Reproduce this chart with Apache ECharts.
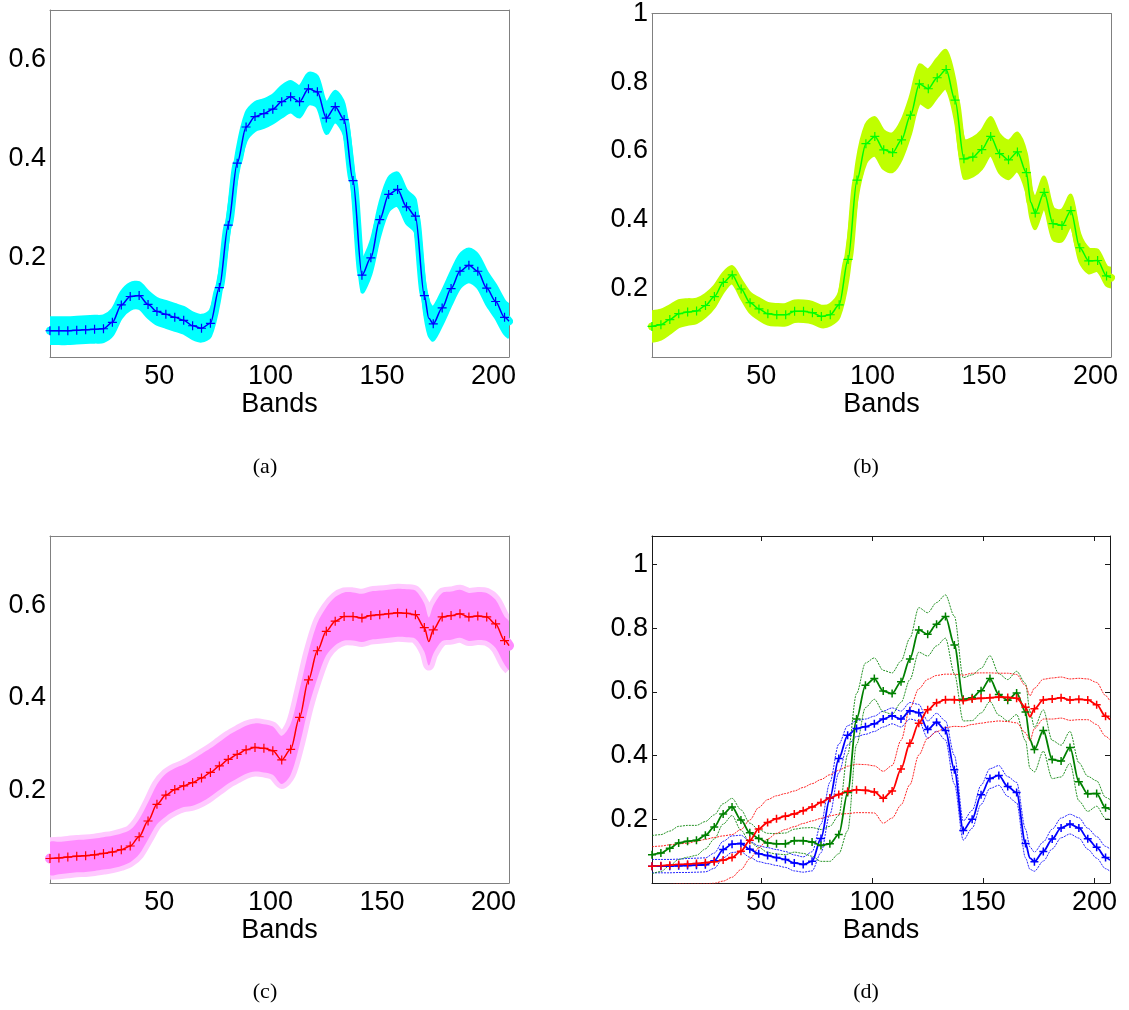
<!DOCTYPE html>
<html>
<head>
<meta charset="utf-8">
<script src="https://cdn.jsdelivr.net/npm/echarts@6/dist/echarts.min.js"></script>
<style>
html, body { margin: 0; padding: 0; background: #fff; }
#main { width: 1129px; height: 1010px; }
</style>
</head>
<body>
<div id="main"></div>
<script>
// band positions (markers every 4th band, plus 171 and 207 for the line only)
var bands = [1, 5, 9, 13, 17, 21, 25, 29, 33, 37, 41, 45, 49, 53, 57, 61, 65, 69, 73, 77,
    81, 85, 89, 93, 97, 101, 105, 109, 113, 117, 121, 125, 129, 133, 137, 141, 145, 149, 153, 157,
    161, 165, 169, 171, 173, 177, 181, 185, 189, 193, 197, 201, 205, 207];

// mean spectra
var blueMean = [0.053, 0.053, 0.053, 0.054, 0.055, 0.056, 0.057, 0.070, 0.105, 0.122,
    0.124, 0.106, 0.092, 0.086, 0.080, 0.074, 0.063, 0.058, 0.068, 0.140,
    0.266, 0.391, 0.464, 0.485, 0.491, 0.500, 0.515, 0.525, 0.515, 0.541,
    0.535, 0.482, 0.505, 0.479, 0.356, 0.165, 0.200, 0.277, 0.328, 0.338,
    0.303, 0.284, 0.124, 0.078, 0.067, 0.099, 0.138, 0.173, 0.185, 0.173,
    0.139, 0.112, 0.080, 0.072];
var greenMean = [0.089, 0.094, 0.109, 0.126, 0.131, 0.134, 0.150, 0.176, 0.217, 0.239,
    0.198, 0.158, 0.140, 0.126, 0.123, 0.123, 0.133, 0.133, 0.129, 0.118,
    0.123, 0.152, 0.284, 0.515, 0.621, 0.642, 0.603, 0.595, 0.632, 0.704,
    0.795, 0.781, 0.813, 0.837, 0.748, 0.577, 0.582, 0.604, 0.642, 0.592,
    0.574, 0.597, 0.537, 0.450, 0.419, 0.479, 0.388, 0.383, 0.426, 0.318,
    0.280, 0.281, 0.236, 0.231];
var redMean = [0.053, 0.054, 0.056, 0.058, 0.059, 0.061, 0.064, 0.067, 0.072, 0.080,
    0.100, 0.134, 0.170, 0.190, 0.202, 0.210, 0.217, 0.227, 0.239, 0.253,
    0.267, 0.278, 0.288, 0.293, 0.291, 0.286, 0.266, 0.289, 0.358, 0.439,
    0.502, 0.544, 0.566, 0.576, 0.576, 0.573, 0.578, 0.580, 0.582, 0.584,
    0.583, 0.580, 0.552, 0.522, 0.547, 0.575, 0.578, 0.582, 0.575, 0.577,
    0.575, 0.560, 0.524, 0.513];

// half width of the shaded spread in (a), (b), (c)
var shadeA = [0.026, 0.026, 0.026, 0.026, 0.026, 0.026, 0.026, 0.026, 0.026, 0.026,
    0.026, 0.026, 0.026, 0.026, 0.026, 0.026, 0.026, 0.026, 0.026, 0.028,
    0.028, 0.028, 0.028, 0.028, 0.028, 0.028, 0.031, 0.031, 0.031, 0.031,
    0.031, 0.031, 0.031, 0.031, 0.031, 0.033, 0.033, 0.033, 0.033, 0.033,
    0.033, 0.033, 0.033, 0.033, 0.033, 0.033, 0.033, 0.033, 0.033, 0.033,
    0.033, 0.033, 0.033, 0.033];
var shadeB = [0.043, 0.042, 0.040, 0.038, 0.036, 0.034, 0.032, 0.030, 0.027, 0.024,
    0.026, 0.028, 0.030, 0.030, 0.030, 0.030, 0.030, 0.030, 0.030, 0.030,
    0.030, 0.035, 0.055, 0.055, 0.055, 0.055, 0.055, 0.055, 0.055, 0.055,
    0.055, 0.055, 0.055, 0.055, 0.055, 0.055, 0.055, 0.055, 0.055, 0.055,
    0.055, 0.055, 0.055, 0.045, 0.045, 0.045, 0.045, 0.045, 0.045, 0.040,
    0.035, 0.030, 0.027, 0.027];
var shadeC = [0.035, 0.035, 0.035, 0.035, 0.035, 0.035, 0.035, 0.035, 0.035, 0.035,
    0.038, 0.040, 0.043, 0.046, 0.046, 0.046, 0.050, 0.052, 0.052, 0.052,
    0.052, 0.052, 0.052, 0.052, 0.052, 0.052, 0.052, 0.055, 0.060, 0.060,
    0.060, 0.052, 0.052, 0.052, 0.052, 0.052, 0.052, 0.052, 0.052, 0.052,
    0.052, 0.052, 0.052, 0.052, 0.052, 0.052, 0.052, 0.052, 0.052, 0.052,
    0.052, 0.052, 0.052, 0.052];

// standard deviation used for the dotted bounds in (d)
var blueSd = [0.021, 0.021, 0.021, 0.021, 0.022, 0.022, 0.022, 0.024, 0.026, 0.026,
    0.026, 0.025, 0.025, 0.025, 0.025, 0.025, 0.025, 0.024, 0.030, 0.045,
    0.050, 0.045, 0.030, 0.025, 0.024, 0.024, 0.025, 0.025, 0.025, 0.026,
    0.026, 0.027, 0.028, 0.030, 0.045, 0.030, 0.028, 0.030, 0.031, 0.031,
    0.031, 0.032, 0.045, 0.035, 0.030, 0.030, 0.031, 0.031, 0.031, 0.032,
    0.033, 0.034, 0.035, 0.035];
var greenSd = [0.060, 0.058, 0.054, 0.052, 0.050, 0.047, 0.043, 0.038, 0.032, 0.027,
    0.032, 0.030, 0.028, 0.030, 0.032, 0.034, 0.036, 0.040, 0.045, 0.050,
    0.055, 0.060, 0.120, 0.080, 0.070, 0.065, 0.065, 0.065, 0.065, 0.065,
    0.070, 0.068, 0.068, 0.068, 0.090, 0.068, 0.072, 0.070, 0.072, 0.065,
    0.065, 0.068, 0.090, 0.090, 0.070, 0.065, 0.060, 0.050, 0.050, 0.060,
    0.055, 0.040, 0.033, 0.031];
var redSdUp = [0.061, 0.062, 0.064, 0.065, 0.066, 0.070, 0.073, 0.076, 0.076, 0.072,
    0.068, 0.064, 0.067, 0.072, 0.072, 0.071, 0.072, 0.073, 0.073, 0.072,
    0.073, 0.076, 0.079, 0.080, 0.081, 0.082, 0.085, 0.080, 0.090, 0.110,
    0.108, 0.096, 0.086, 0.080, 0.080, 0.080, 0.081, 0.080, 0.078, 0.075,
    0.076, 0.075, 0.068, 0.066, 0.065, 0.065, 0.066, 0.065, 0.066, 0.066,
    0.066, 0.070, 0.065, 0.058];
var redSdLo = [0.060, 0.060, 0.060, 0.060, 0.062, 0.064, 0.066, 0.068, 0.066, 0.062,
    0.058, 0.058, 0.060, 0.052, 0.046, 0.042, 0.040, 0.040, 0.044, 0.050,
    0.056, 0.062, 0.070, 0.072, 0.070, 0.066, 0.078, 0.085, 0.113, 0.130,
    0.100, 0.089, 0.091, 0.088, 0.084, 0.082, 0.080, 0.078, 0.076, 0.075,
    0.076, 0.077, 0.080, 0.075, 0.062, 0.060, 0.063, 0.064, 0.064, 0.064,
    0.062, 0.062, 0.063, 0.063];

// axis ticks and texts
var xTicks = [50, 100, 150, 200];
var yTicksA = [0.2, 0.4, 0.6];
var yTicksB = [0.2, 0.4, 0.6, 0.8, 1];
var yMax = [0.7, 1, 0.75, 1.09];
var captions = ['(a)', '(b)', '(c)', '(d)'];
var xName = 'Bands';

var PLUS = 'path://M5,0L5,10M0,5L10,5';
var FONT = 'Liberation Sans';
var SMOOTH = 0.3;

var grids = [
    { left: 50, top: 10, width: 459, height: 347 },
    { left: 652, top: 10, width: 459, height: 347 },
    { left: 50, top: 536, width: 459, height: 347 },
    { left: 652, top: 536, width: 458, height: 347 }
];
var captionPos = [[265, 467], [866, 467], [265, 992], [866, 992]];

function pts(vals) {
    return bands.map(function (b, i) { return [b, vals[i]]; });
}
function shifted(vals, d, sign) {
    return bands.map(function (b, i) { return [b, vals[i] + sign * d[i]]; });
}
function plusOrNone(value) {
    return (value[0] - 1) % 4 === 0 ? PLUS : 'none';
}

var xAxes = [], yAxes = [];
grids.forEach(function (g, i) {
    var isD = i === 3;
    var lineColor = isD ? '#1a1a1a' : '#808080';
    var tick = { show: isD, inside: true, length: 5, lineStyle: { color: lineColor, width: 1 }, customValues: xTicks };
    var yt = (i === 1 || i === 3) ? yTicksB : yTicksA;
    var ytick = { show: isD, inside: true, length: 5, lineStyle: { color: lineColor, width: 1 }, customValues: yt };
    var line = { show: true, onZero: false, lineStyle: { color: lineColor, width: 1 } };
    xAxes.push({
        type: 'value', gridIndex: i, min: 1, max: 207, position: 'bottom',
        axisLine: line, axisTick: tick, splitLine: { show: false },
        axisLabel: { customValues: xTicks, margin: 6, fontSize: 27, fontFamily: FONT, color: '#000' },
        name: xName, nameLocation: 'middle', nameGap: 32,
        nameTextStyle: { fontSize: 27, fontFamily: FONT, color: '#000' }
    });
    xAxes.push({
        type: 'value', gridIndex: i, min: 1, max: 207, position: 'top',
        axisLine: line, axisTick: tick, splitLine: { show: false }, axisLabel: { show: false }
    });
    yAxes.push({
        type: 'value', gridIndex: i, min: 0, max: yMax[i], position: 'left',
        axisLine: line, axisTick: ytick, splitLine: { show: false },
        axisLabel: { customValues: yt, margin: 4, fontSize: 27, fontFamily: FONT, color: '#000' }
    });
    yAxes.push({
        type: 'value', gridIndex: i, min: 0, max: yMax[i], position: 'right',
        axisLine: line, axisTick: ytick, splitLine: { show: false }, axisLabel: { show: false }
    });
});

function bandSeries(idx, mean, d, fill, stroke, strokeW) {
    var rows = bands.map(function (b, i) { return [b, mean[i] - d[i], mean[i] + d[i]]; });
    return {
        type: 'custom', xAxisIndex: idx * 2, yAxisIndex: idx * 2, silent: true, z: 1,
        data: rows, encode: { x: 0, y: [1, 2] },
        renderItem: function (params, api) {
            if (params.dataIndex !== 0) return null;
            var top = [], bot = [];
            rows.forEach(function (r) {
                top.push(api.coord([r[0], r[2]]));
                bot.unshift(api.coord([r[0], r[1]]));
            });
            var cs = params.coordSys;
            return {
                type: 'group',
                clipPath: { type: 'rect', shape: { x: cs.x, y: cs.y, width: cs.width, height: cs.height } },
                children: [top, bot].map(function (edge) {
                    return {
                        type: 'polyline', shape: { points: edge, smooth: SMOOTH },
                        style: { fill: null, stroke: stroke, lineWidth: strokeW, lineJoin: 'round' }
                    };
                }).concat([{
                    type: 'polygon',
                    shape: { points: top.concat(bot), smooth: SMOOTH },
                    style: { fill: fill }
                }])
            };
        }
    };
}

var panels = [
    { mean: blueMean, shade: shadeA, fill: '#00ffff', halo: '#00ffff', haloW: 3, wide: 8, line: '#0000ff' },
    { mean: greenMean, shade: shadeB, fill: '#bfff00', halo: '#bfff00', haloW: 3, wide: 8, line: '#00ff00' },
    { mean: redMean, shade: shadeC, fill: '#ff8cff', halo: '#ffc8ff', haloW: 10, wide: 10, line: '#ff0000' }
];

var series = [];
panels.forEach(function (p, i) {
    series.push(bandSeries(i, p.mean, p.shade, p.fill, p.halo, p.haloW));
    series.push({
        type: 'line', xAxisIndex: i * 2, yAxisIndex: i * 2, data: pts(p.mean), z: 2,
        symbol: 'none', silent: true, smooth: SMOOTH, smoothMonotone: 'x',
        lineStyle: { color: p.fill, width: p.wide, cap: 'round', join: 'round' }
    });
    series.push({
        type: 'line', xAxisIndex: i * 2, yAxisIndex: i * 2, data: pts(p.mean), z: 3,
        symbol: plusOrNone, symbolSize: 9, silent: true, smooth: SMOOTH, smoothMonotone: 'x',
        lineStyle: { color: p.line, width: 1.5 },
        itemStyle: { color: 'rgba(0,0,0,0)', borderColor: p.line, borderWidth: 1.2 }
    });
});

var classes = [
    { mean: blueMean, up: blueSd, lo: blueSd, color: '#0000ff' },
    { mean: greenMean, up: greenSd, lo: greenSd, color: '#008000' },
    { mean: redMean, up: redSdUp, lo: redSdLo, color: '#ff0000' }
];
classes.forEach(function (c) {
    [shifted(c.mean, c.up, 1), shifted(c.mean, c.lo, -1)].forEach(function (d) {
        series.push({
            type: 'line', xAxisIndex: 6, yAxisIndex: 6, data: d, z: 3,
            symbol: 'none', silent: true, smooth: SMOOTH, smoothMonotone: 'x',
            lineStyle: { color: c.color, width: 1, type: [2, 1], opacity: 0.85 }
        });
    });
    series.push({
        type: 'line', xAxisIndex: 6, yAxisIndex: 6, data: pts(c.mean), z: 4,
        symbol: plusOrNone, symbolSize: 8, silent: true, smooth: SMOOTH, smoothMonotone: 'x',
        lineStyle: { color: c.color, width: 1.8 },
        itemStyle: { color: 'rgba(0,0,0,0)', borderColor: c.color, borderWidth: 1.5 }
    });
});

var chart = echarts.init(document.getElementById('main'));
chart.setOption({
    animation: false,
    backgroundColor: '#fff',
    grid: grids,
    xAxis: xAxes,
    yAxis: yAxes,
    series: series,
    graphic: captions.map(function (t, i) {
        return {
            type: 'text', x: captionPos[i][0], y: captionPos[i][1], silent: true,
            style: {
                text: t, font: '22px "Liberation Serif"', fill: '#000',
                textAlign: 'center', textVerticalAlign: 'middle', align: 'center', verticalAlign: 'middle'
            }
        };
    })
});
</script>
</body>
</html>
